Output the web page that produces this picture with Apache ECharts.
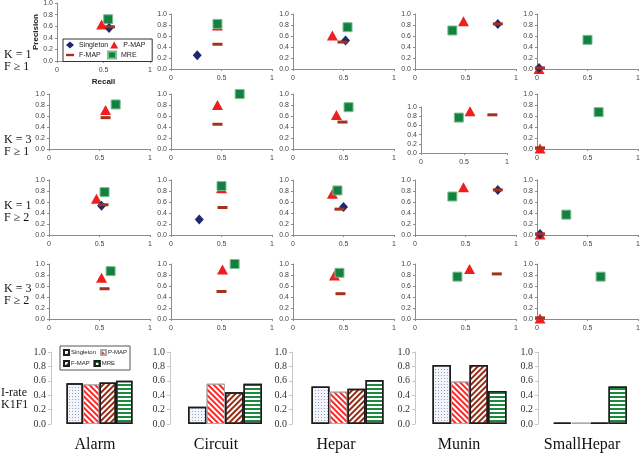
<!DOCTYPE html>
<html>
<head>
<meta charset="utf-8">
<script src="https://cdn.jsdelivr.net/npm/echarts/dist/echarts.min.js"></script>
<style>
  html, body { margin: 0; padding: 0; background: #fff; }
  #chart-container { width: 640px; height: 454px; }
</style>
</head>
<body>
<div id="chart-container"></div>
<script>
var dom = document.getElementById('chart-container');
var myChart = echarts.init(dom, null, { renderer: 'canvas' });

const networks = ['Alarm', 'Circuit', 'Hepar', 'Munin', 'SmallHepar'];
const methods = ['Singleton', 'P-MAP', 'F-MAP', 'MRE'];
const settingLabels = ['K = 1\nF ≥ 1', 'K = 3\nF ≥ 1', 'K = 1\nF ≥ 2', 'K = 3\nF ≥ 2'];
const recallTicks = [0, 0.5, 1];
const precisionTicks = [0, 0.2, 0.4, 0.6, 0.8, 1.0];

// [recall, precision] per network, null = not plotted
const singletonK1F1 = [[0.56, 0.57], [0.26, 0.25], [0.52, 0.52], [0.82, 0.82], [0.02, 0.02]];
const pmapK1F1 = [[0.48, 0.63], [0.46, 0.79], [0.39, 0.61], [0.48, 0.87], [0.02, 0.0]];
const fmapK1F1 = [[0.57, 0.59], [0.46, 0.45], [0.49, 0.49], [0.82, 0.82], [0.03, 0.02]];
const mreK1F1 = [[0.55, 0.72], [0.46, 0.82], [0.54, 0.76], [0.37, 0.70], [0.50, 0.53]];

const singletonK3F1 = [null, null, null, null, null];
const pmapK3F1 = [[0.56, 0.71], [0.46, 0.80], [0.43, 0.62], [0.57, 0.91], [0.03, 0.01]];
const fmapK3F1 = [[0.56, 0.57], [0.46, 0.45], [0.49, 0.49], [0.83, 0.83], [0.03, 0.02]];
const mreK3F1 = [[0.66, 0.81], [0.68, 1.0], [0.55, 0.76], [0.44, 0.77], [0.61, 0.67]];

const singletonK1F2 = [[0.52, 0.53], [0.28, 0.28], [0.50, 0.51], [0.82, 0.82], [0.03, 0.02]];
const pmapK1F2 = [[0.47, 0.66], [0.50, 0.85], [0.39, 0.75], [0.48, 0.87], [0.03, 0.01]];
const fmapK1F2 = [[0.54, 0.55], [0.51, 0.50], [0.46, 0.47], [0.82, 0.82], [0.03, 0.02]];
const mreK1F2 = [[0.55, 0.78], [0.50, 0.89], [0.44, 0.81], [0.37, 0.70], [0.29, 0.37]];

const singletonK3F2 = [null, null, null, null, null];
const pmapK3F2 = [[0.52, 0.75], [0.51, 0.90], [0.41, 0.79], [0.54, 0.91], [0.03, 0.01]];
const fmapK3F2 = [[0.55, 0.55], [0.50, 0.50], [0.47, 0.46], [0.81, 0.82], [0.03, 0.02]];
const mreK3F2 = [[0.61, 0.87], [0.63, 1.0], [0.46, 0.84], [0.42, 0.77], [0.63, 0.77]];

// I-rate for K1F1, per network
const irateSingleton = [0.565, 0.24, 0.52, 0.82, 0.02];
const iratePmap = [0.55, 0.56, 0.45, 0.59, 0.02];
const irateFmap = [0.575, 0.44, 0.49, 0.82, 0.02];
const irateMre = [0.60, 0.56, 0.61, 0.46, 0.52];

const settings = [
  [singletonK1F1, pmapK1F1, fmapK1F1, mreK1F1],
  [singletonK3F1, pmapK3F1, fmapK3F1, mreK3F1],
  [singletonK1F2, pmapK1F2, fmapK1F2, mreK1F2],
  [singletonK3F2, pmapK3F2, fmapK3F2, mreK3F2],
];
const irate = [irateSingleton, iratePmap, irateFmap, irateMre];

// layout
const colLeft = [49, 171, 293, 415, 537];
const rowTop = [14, 94, 180, 264];
const barLeft = [51, 170, 292, 415, 538];
const barWidthGrid = [97, 110, 111, 109, 104];
const barW = [16.5, 18.5, 18, 18.5, 18.5];

const serif = 'Liberation Serif, Times New Roman, serif';
const sans = 'Liberation Sans, Arial, sans-serif';

// scatter marker styles: drawing order P-MAP, MRE, Singleton, F-MAP
const markStyle = {
  'Singleton': { symbol: 'diamond', symbolSize: [9, 10], itemStyle: { color: '#1f276e', opacity: 1 }, z: 4 },
  'P-MAP': { symbol: 'triangle', symbolSize: [11, 10], itemStyle: { color: '#f01e1e', opacity: 1 }, z: 2 },
  'F-MAP': { symbol: 'rect', symbolSize: [10, 3], itemStyle: { color: '#a3331c', opacity: 1 }, z: 5 },
  'MRE': { symbol: 'rect', symbolSize: 9, itemStyle: { color: '#13803f', borderColor: '#79c08f', borderWidth: 1, opacity: 1 }, z: 3 },
};

const barStyle = {
  'Singleton': { color: '#f3f5fa', borderColor: '#1c1c1c', borderWidth: 1.5,
    decal: { symbol: 'circle', symbolSize: 1, color: '#7487b8', dashArrayX: [1, 2], dashArrayY: [1, 2] } },
  'P-MAP': { color: '#fff', borderColor: '#aaaaaa', borderWidth: 1,
    decal: { symbol: 'rect', symbolSize: 1, color: '#ff2626', dashArrayX: [1, 0], dashArrayY: [2, 2], rotation: Math.PI / 4 } },
  'F-MAP': { color: '#fff', borderColor: '#1c1c1c', borderWidth: 1.5,
    decal: { symbol: 'rect', symbolSize: 1, color: '#962a12', dashArrayX: [1, 0], dashArrayY: [2, 2], rotation: -Math.PI / 4 } },
  'MRE': { color: '#fff', borderColor: '#1c1c1c', borderWidth: 1.5,
    decal: { symbol: 'rect', symbolSize: 1, color: '#1b8a3e', dashArrayX: [1, 0], dashArrayY: [2, 1.6], rotation: 0 } },
};

const grid = [];
const xAxis = [];
const yAxis = [];
const series = [];
const title = [];

const axisLineStyle = { show: true, lineStyle: { color: '#8c8c8c', width: 1 } };

for (let r = 0; r < 4; r++) {
  for (let c = 0; c < 5; c++) {
    const idx = r * 5 + c;
    let g = { left: colLeft[c], top: rowTop[r], width: 101, height: 55 };
    if (r === 0 && c === 0) g = { left: 57, top: 3, width: 93, height: 58 };
    if (r === 1 && c === 3) g = { left: 421, top: 107, width: 86, height: 46 };
    g.outerBoundsMode = 'none';
    grid.push(g);

    const first = (r === 0 && c === 0);
    xAxis.push({
      type: 'value', gridIndex: idx, min: recallTicks[0], max: recallTicks[recallTicks.length - 1], interval: 0.5,
      axisLine: axisLineStyle,
      axisTick: { show: true, length: 2, lineStyle: { color: '#8c8c8c' } },
      splitLine: { show: false },
      axisLabel: { fontSize: 7, color: '#444', fontFamily: sans, margin: 6,
        formatter: v => String(v) },
      name: first ? 'Recall' : '', nameLocation: 'middle', nameGap: 17,
      nameTextStyle: { fontSize: 8, fontWeight: 'bold', color: '#222', fontFamily: sans },
    });
    yAxis.push({
      type: 'value', gridIndex: idx, min: 0, max: 1, interval: 0.2,
      axisLine: axisLineStyle,
      axisTick: { show: true, length: 2, lineStyle: { color: '#8c8c8c' } },
      splitLine: { show: false },
      axisLabel: { fontSize: 7, color: '#444', fontFamily: sans, margin: 4,
        formatter: v => v.toFixed(1) },
      name: first ? 'Precision' : '', nameLocation: 'middle', nameGap: 16,
      nameTextStyle: { fontSize: 8, fontWeight: 'bold', color: '#222', fontFamily: sans },
    });

    methods.forEach((m, mi) => {
      const pt = settings[r][mi][c];
      if (!pt) return;
      const st = markStyle[m];
      series.push({
        type: 'scatter', name: m, xAxisIndex: idx, yAxisIndex: idx,
        data: [pt], symbol: st.symbol, symbolSize: st.symbolSize,
        itemStyle: st.itemStyle, z: st.z, silent: true,
      });
    });
  }
}

// I-rate bar charts
for (let c = 0; c < 5; c++) {
  const idx = 20 + c;
  grid.push({ left: barLeft[c], top: 352, width: barWidthGrid[c], height: 72, outerBoundsMode: 'none' });
  xAxis.push({
    type: 'category', gridIndex: idx, data: [networks[c]],
    axisLine: { show: false }, axisTick: { show: false }, axisLabel: { show: false },
  });
  yAxis.push({
    type: 'value', gridIndex: idx, min: 0, max: 1, interval: 0.2,
    axisLine: { show: true, lineStyle: { color: '#c8c8c8' } },
    axisTick: { show: true, length: 3, lineStyle: { color: '#c8c8c8' } },
    splitLine: { show: false },
    axisLabel: { fontSize: 10, color: '#333', fontFamily: serif, margin: 5,
      formatter: v => v.toFixed(1) },
  });
  methods.forEach((m, mi) => {
    series.push({
      type: 'bar', name: m + ' bar', xAxisIndex: idx, yAxisIndex: idx,
      data: [irate[mi][c]], barWidth: barW[c], barGap: '0%',
      itemStyle: barStyle[m], silent: true,
    });
  });
}

// row labels
const labelTops = [49, 134, 200, 283];
settingLabels.forEach((t, r) => {
  title.push({ text: t, left: 4, top: labelTops[r], padding: 0,
    textStyle: { fontSize: 12, fontWeight: 'normal', color: '#111', fontFamily: serif, lineHeight: 12 } });
});
title.push({ text: 'I-rate\nK1F1', left: 1, top: 387, padding: 0,
  textStyle: { fontSize: 12, fontWeight: 'normal', color: '#111', fontFamily: serif, lineHeight: 12 } });

// network names
const nameCenter = [95, 216, 336, 459, 582];
networks.forEach((n, c) => {
  title.push({ text: n, left: nameCenter[c], top: 437, textAlign: 'center', padding: 0,
    textStyle: { fontSize: 16, fontWeight: 'normal', color: '#111', fontFamily: serif } });
});

const option = {
  animation: false,
  title: title,
  legend: [
    {
      left: 63, top: 39, orient: 'horizontal', width: 100,
      padding: [2, 3], itemGap: 2, itemWidth: 8, itemHeight: 7,
      borderColor: '#333', borderWidth: 1, borderRadius: 0,
      selectedMode: false,
      textStyle: { fontSize: 7, color: '#222', fontFamily: sans, width: 26, lineHeight: 8 },
      data: [
        { name: 'Singleton', icon: 'diamond' },
        { name: 'P-MAP', icon: 'triangle' },
        { name: 'F-MAP', icon: 'path://M0,0h10v3h-10z' },
        { name: 'MRE', icon: 'rect' },
      ],
    },
    {
      left: 60, top: 346, orient: 'horizontal', width: 78,
      padding: [3, 3], itemGap: 4, itemWidth: 5, itemHeight: 5,
      borderColor: '#555', borderWidth: 1, borderRadius: 0,
      selectedMode: false,
      textStyle: { fontSize: 6, color: '#222', fontFamily: sans, width: 30, padding: [0, 0, 0, -3] },
      formatter: name => name.replace(' bar', ''),
      data: methods.map(m => ({ name: m + ' bar', icon: 'rect' })),
    },
  ],
  grid: grid,
  xAxis: xAxis,
  yAxis: yAxis,
  series: series,
};

myChart.setOption(option);
window.addEventListener('resize', myChart.resize);
</script>
</body>
</html>
